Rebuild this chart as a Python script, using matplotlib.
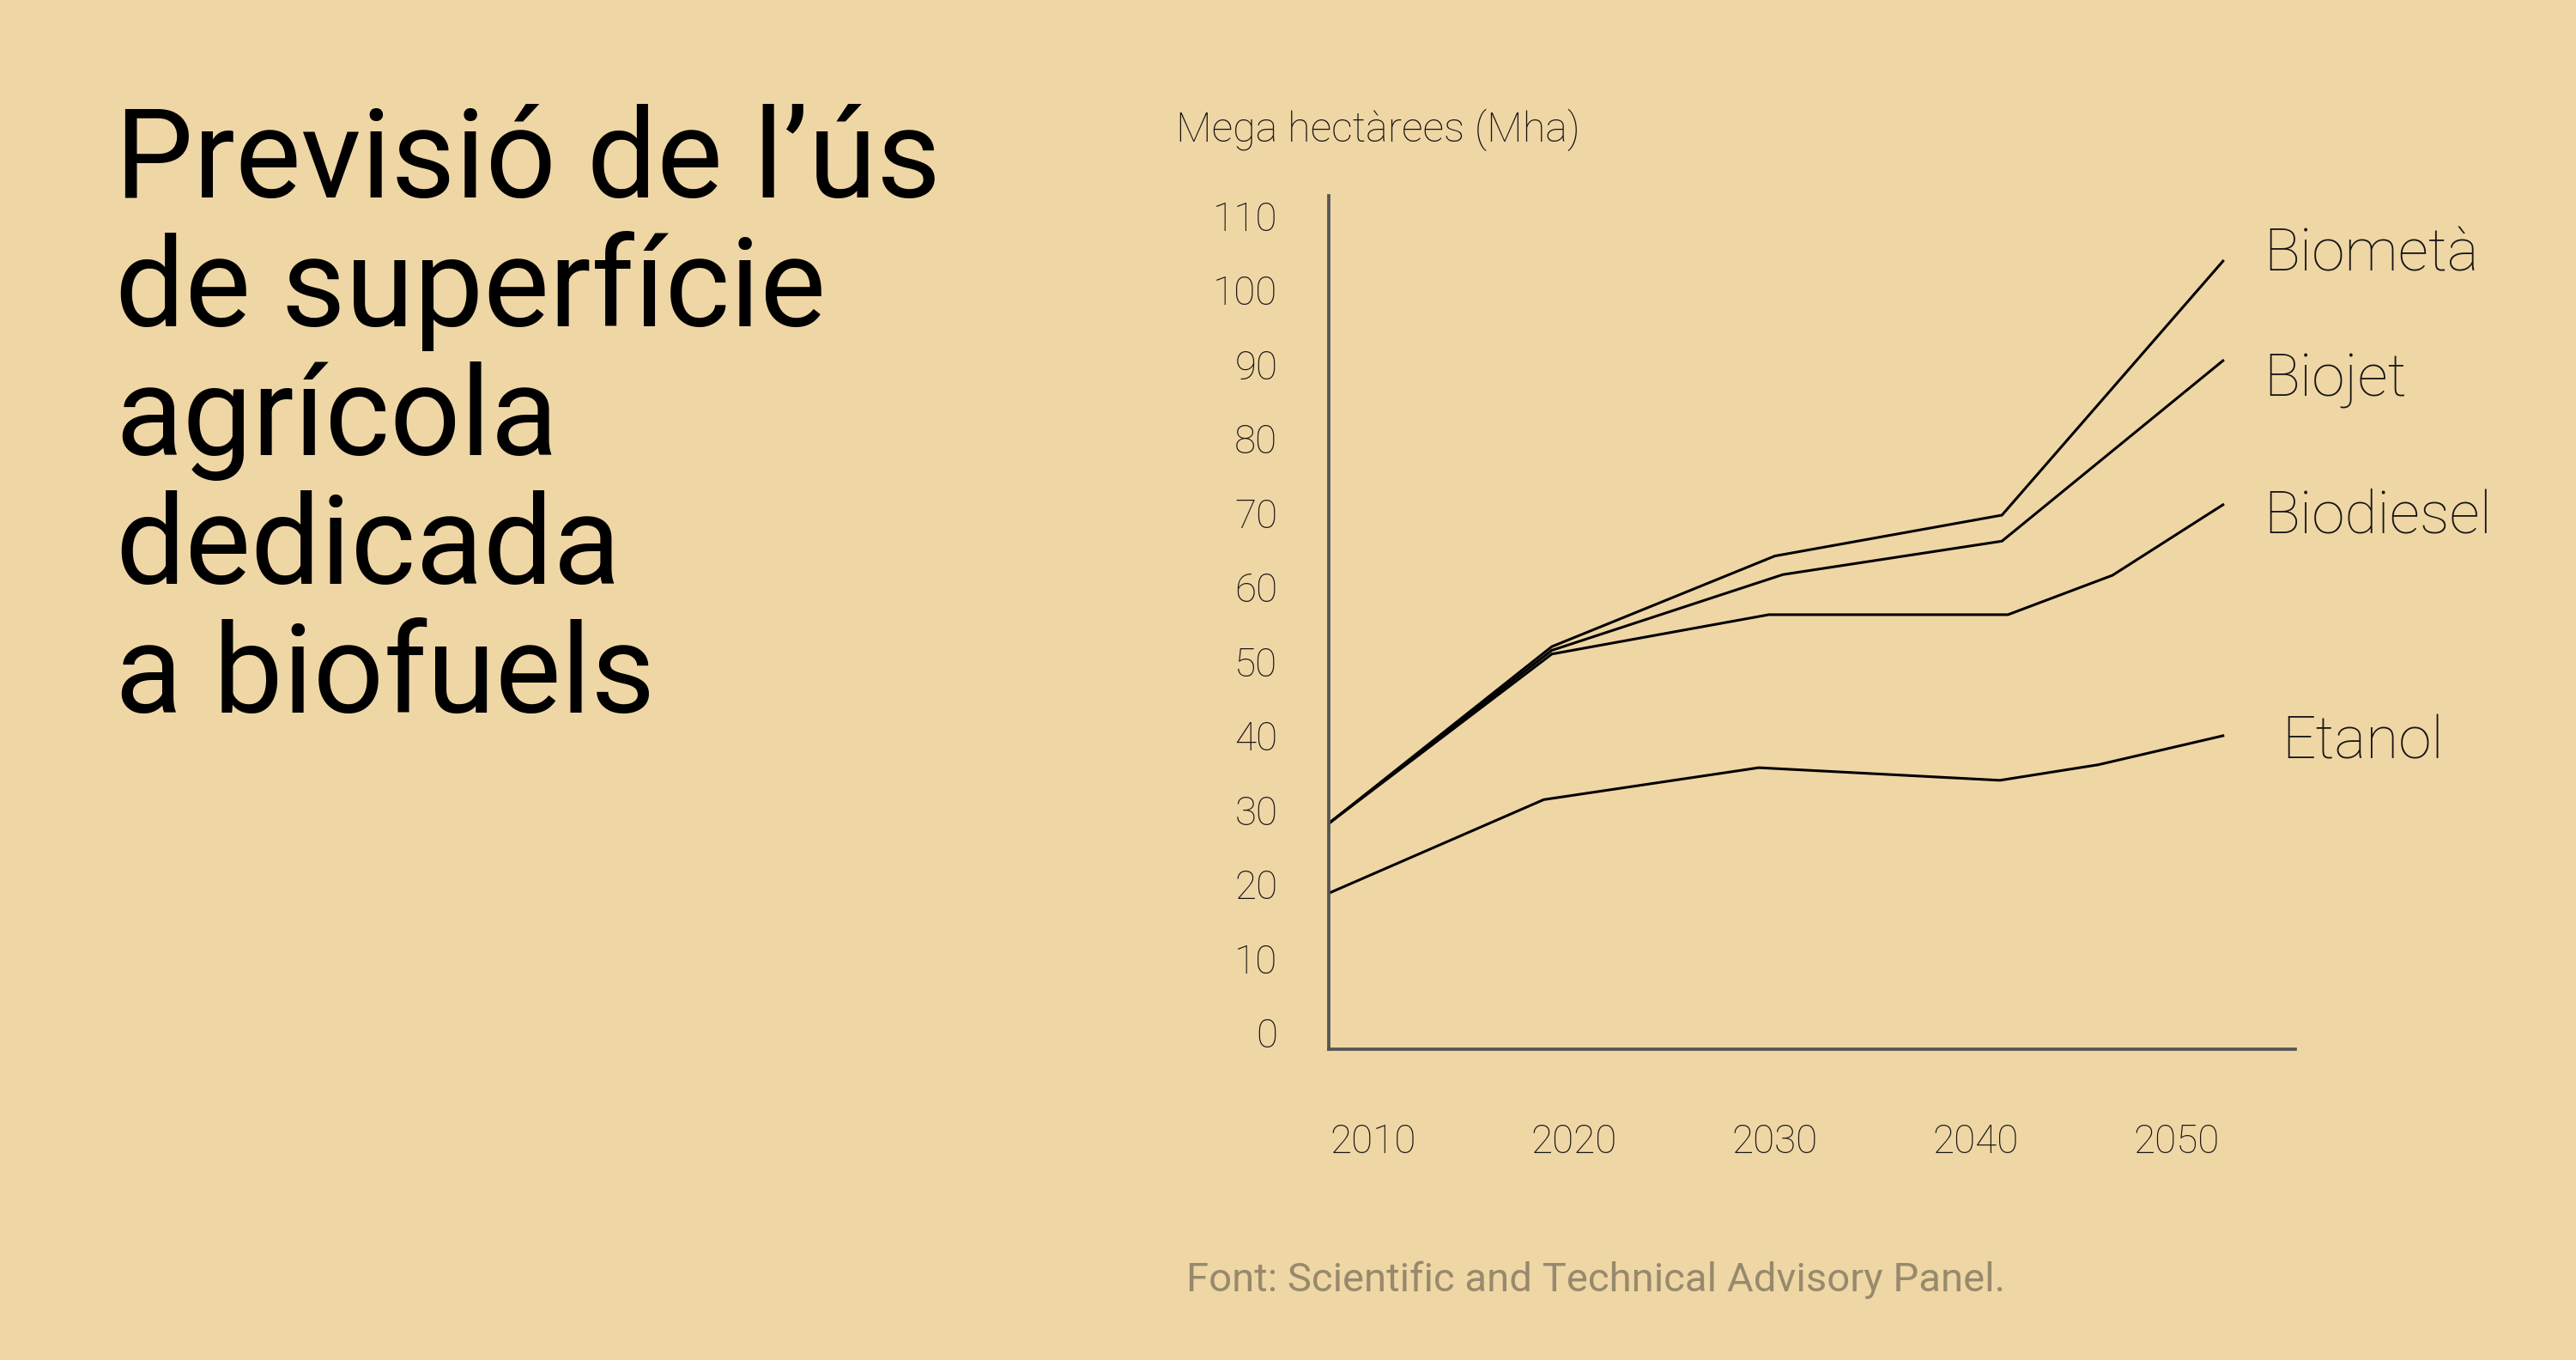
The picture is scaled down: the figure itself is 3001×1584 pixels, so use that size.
import matplotlib.pyplot as plt

BG = '#EFD6A5'
INK = '#151515'
AXIS = '#555555'
NOTE = '#978a6c'

# data (Mha)
years_biometa = [2007.8, 2018.9, 2030.0, 2041.3, 2052.3]
biometa = [28.2, 52.0, 64.2, 69.7, 103.9]
years_biojet = [2007.8, 2018.9, 2030.4, 2041.3, 2052.3]
biojet = [28.2, 51.5, 61.7, 66.2, 90.5]
years_biodiesel = [2007.8, 2018.9, 2029.7, 2041.6, 2046.8, 2052.3]
biodiesel = [28.2, 51.0, 56.3, 56.3, 61.6, 71.1]
years_etanol = [2007.8, 2018.5, 2029.2, 2041.2, 2046.1, 2052.3]
etanol = [18.8, 31.4, 35.7, 34.0, 36.1, 40.0]

x_ticks = [2010, 2020, 2030, 2040, 2050]
y_ticks = list(range(0, 111, 10))

title_lines = ['Previsió de l’ús', 'de superfície', 'agrícola', 'dedicada', 'a biofuels']

FONT = 'Roboto'
W, H = 3001, 1584

fig = plt.figure(figsize=(W / 100, H / 100), dpi=100, facecolor=BG)

# axes box in pixels: left 1548, right 2674, top 228, bottom 1222
ax = fig.add_axes([1548 / W, 1 - 1222 / H, (2674 - 1548) / W, (1222 - 228) / H])
ax.set_facecolor(BG)

series = [
    ('Biometà', years_biometa, biometa, (48, -11)),
    ('Biojet', years_biojet, biojet, (48, -41)),
    ('Biodiesel', years_biodiesel, biodiesel, (48, -33)),
    ('Etanol', years_etanol, etanol, (69, -27)),
]
for name, xs, ys, off in series:
    ax.plot(xs, ys, color='black', lw=2.2, solid_joinstyle='miter')
    ax.annotate(name, xy=(xs[-1], ys[-1]), xytext=off, textcoords='offset pixels',
                ha='left', va='baseline', fontsize=50, color=INK, family=FONT,
                fontweight='light', annotation_clip=False)

ax.set_xlim(2007.8, 2055.9)
ax.set_ylim(-2.2, 112.7)
ax.set_xticks(x_ticks)
ax.set_yticks(y_ticks)
ax.tick_params(length=0, labelsize=33, labelcolor=INK)
ax.tick_params(axis='y', pad=43)
ax.tick_params(axis='x', pad=62)
for lab in ax.get_xticklabels() + ax.get_yticklabels():
    lab.set_family(FONT)
    lab.set_fontweight('light')

for side in ['top', 'right']:
    ax.spines[side].set_visible(False)
for side in ['left', 'bottom']:
    ax.spines[side].set_color(AXIS)
    ax.spines[side].set_linewidth(2.7)

fig.text(1370 / W, 1 - 165 / H, 'Mega hectàrees (Mha)', fontsize=35, color=INK,
         family=FONT, fontweight='light', va='baseline', ha='left')

# title, one line at a time (baselines 150 px apart)
for i, line in enumerate(title_lines):
    fig.text(134 / W, 1 - (230 + 150 * i) / H, line, fontsize=104, color='black',
             family=FONT, va='baseline', ha='left')

fig.text(1382 / W, 1 - 1504 / H, 'Font: Scientific and Technical Advisory Panel.',
         fontsize=34, color=NOTE, family=FONT,
         va='baseline', ha='left')

fig.savefig('out.png', dpi=100, facecolor=BG)
